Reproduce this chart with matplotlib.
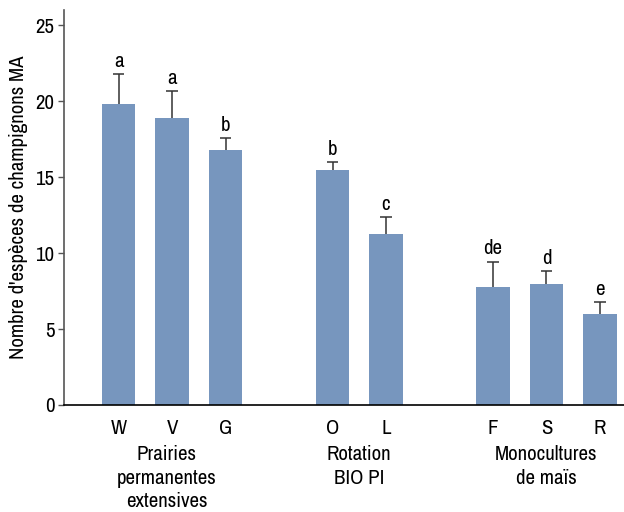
import matplotlib
matplotlib.use("Agg")
import matplotlib.pyplot as plt
from matplotlib import font_manager
import numpy as np

# data
labels = ["W", "V", "G", "O", "L", "F", "S", "R"]
positions = [0, 1, 2, 4, 5, 7, 8, 9]
means = [19.8, 18.9, 16.8, 15.45, 11.25, 7.75, 7.95, 6.0]
errors = [2.0, 1.8, 0.8, 0.55, 1.15, 1.7, 0.85, 0.8]
letters = ["a", "a", "b", "b", "c", "de", "d", "e"]
groups = ["Prairies\npermanentes\nextensives", "Rotation\nBIO PI", "Monocultures\nde maïs"]
group_centers = [0.9, 4.5, 8.0]

BAR_COLOR = "#7796BE"
names = {f.name for f in font_manager.fontManager.ttflist}
cond = [f.name for f in font_manager.fontManager.ttflist
        if "Condensed" in f.name or "Narrow" in f.name]
family = (cond[:1] if cond else []) + ["Roboto", "DejaVu Sans"]
plt.rcParams["font.family"] = [f for f in family if f in names] or ["DejaVu Sans"]

fig = plt.figure(figsize=(6.24, 5.12), dpi=100)
ax = fig.add_axes([0.1026, 0.209, 0.8974, 0.771])

ax.bar(positions, means, width=0.62, color=BAR_COLOR, zorder=2)
tops = np.array(means) + np.array(errors)
ax.vlines(positions, means, tops, color="#333333", lw=1.1, zorder=3)
ax.hlines(tops, np.array(positions) - 0.11, np.array(positions) + 0.11,
          color="#333333", lw=1.1, zorder=3)

for x, t, lab in zip(positions, tops, letters):
    ax.text(x, t + 0.2, lab, ha="center", va="bottom", fontsize=15)

ax.set_xlim(-1.02, 9.45)
ax.set_ylim(0, 26)
ax.set_yticks([0, 5, 10, 15, 20, 25])
ax.tick_params(axis="y", labelsize=15, length=4, width=1, color="#555555", pad=3)
ax.set_xticks(positions)
ax.set_xticklabels(labels, fontsize=15)
ax.tick_params(axis="x", length=0, pad=10)

for s in ["top", "right"]:
    ax.spines[s].set_visible(False)
ax.spines["left"].set_color("#555555")
ax.spines["left"].set_linewidth(1.2)
ax.spines["bottom"].set_color("black")
ax.spines["bottom"].set_linewidth(1.2)

for gx, g in zip(group_centers, groups):
    ax.text(gx, -2.65, g, ha="center", va="top", fontsize=15, linespacing=1.3)

ax.set_ylabel("Nombre d'espèces de champignons MA", fontsize=15, labelpad=5)

fig.savefig("out.png", dpi=100)
